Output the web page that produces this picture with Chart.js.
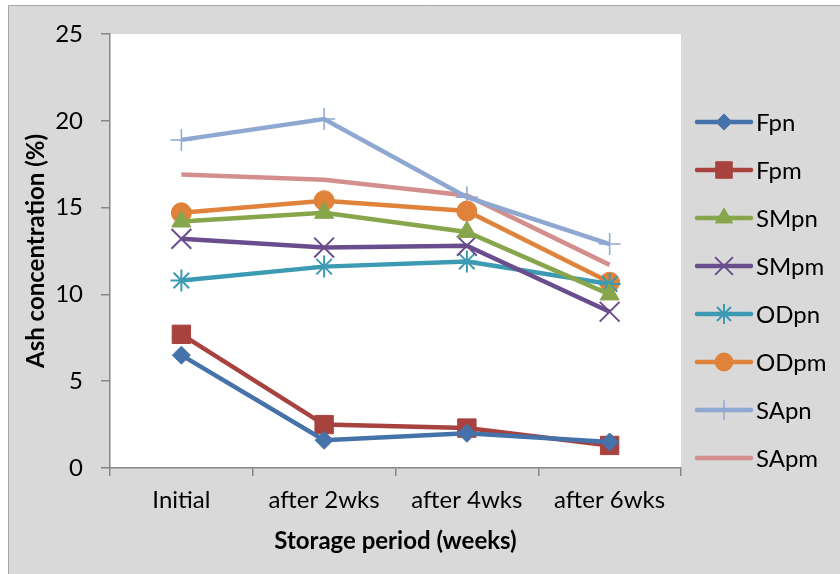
<!DOCTYPE html>
<html>
<head>
<meta charset="utf-8">
<script src="https://cdn.jsdelivr.net/npm/chart.js@4.4.1/dist/chart.umd.min.js"></script>
<style>
  html, body { margin: 0; padding: 0; background: #ffffff; }
  #wrap { width: 840px; height: 574px; }
</style>
</head>
<body>
<div id="wrap"><canvas id="chart" width="840" height="574"></canvas></div>
<script>
// Storage periods along the x axis
const periods = ['Initial', 'after 2wks', 'after 4wks', 'after 6wks'];

// Ash concentration (%) per sample
const Fpn  = [6.5, 1.6, 2.0, 1.5];
const Fpm  = [7.7, 2.5, 2.3, 1.3];
const SMpn = [14.2, 14.7, 13.6, 10.0];
const SMpm = [13.2, 12.7, 12.8, 9.0];
const ODpn = [10.8, 11.6, 11.9, 10.6];
const ODpm = [14.7, 15.4, 14.8, 10.7];
const SApn = [18.9, 20.1, 15.6, 12.9];
const SApm = [16.9, 16.6, 15.7, 11.7];

// y axis ticks
const yTicks = [0, 5, 10, 15, 20, 25];

const FONT = 'Lato, "Liberation Sans", sans-serif';
const AXIS = '#868686';

function series(label, data, color, style, radius, extra) {
  return Object.assign({
    label: label,
    data: data,
    borderColor: color,
    backgroundColor: color,
    borderWidth: 4.5,
    pointStyle: style,
    pointRadius: radius,
    pointHoverRadius: radius,
    pointBorderColor: color,
    pointBackgroundColor: color,
    pointBorderWidth: 1,
    tension: 0,
    clip: false
  }, extra || {});
}

const datasets = [
  series('Fpn',  Fpn,  '#4472a9', 'rectRot', 9),
  series('Fpm',  Fpm,  '#a8423f', 'rect', 13),
  series('SMpn', SMpn, '#87a54a', 'triangle', 11),
  series('SMpm', SMpm, '#6a4d8c', 'crossRot', 14, { pointBorderWidth: 2 }),
  series('ODpn', ODpn, '#3c9ab3', 'star', 11, { pointBorderWidth: 2 }),
  series('ODpm', ODpm, '#e0823a', 'circle', 10),
  series('SApn', SApn, '#8ea8d1', 'cross', 11, { pointBorderWidth: 1.5 }),
  series('SApm', SApm, '#d38f8e', 'circle', 0)
];

// Panel background, plot area fill and the side legend
const framePlugin = {
  id: 'frame',
  beforeDraw(chart) {
    const ctx = chart.ctx;
    const a = chart.chartArea;
    ctx.save();
    ctx.fillStyle = '#ffffff';
    ctx.fillRect(0, 0, chart.width, chart.height);
    ctx.fillStyle = '#d9d9d9';
    ctx.fillRect(8, 5, chart.width - 8, chart.height - 5);
    ctx.strokeStyle = '#a6a6a6';
    ctx.lineWidth = 1;
    ctx.beginPath();
    ctx.moveTo(8.5, chart.height);
    ctx.lineTo(8.5, 5.5);
    ctx.lineTo(chart.width, 5.5);
    ctx.stroke();
    ctx.fillStyle = '#ffffff';
    ctx.fillRect(a.left, a.top, a.right - a.left, a.bottom - a.top);
    ctx.restore();
  },
  afterDraw(chart) {
    const ctx = chart.ctx;
    const x0 = 697, x1 = 751, tx = 756, y0 = 122, step = 48;
    ctx.save();
    chart.data.datasets.forEach((ds, i) => {
      const y = y0 + i * step;
      ctx.strokeStyle = ds.borderColor;
      ctx.lineWidth = 4.5;
      ctx.lineCap = 'round';
      ctx.beginPath();
      ctx.moveTo(x0, y);
      ctx.lineTo(x1, y);
      ctx.stroke();
      if (ds.pointRadius > 0) {
        ctx.lineCap = 'butt';
        ctx.fillStyle = ds.pointBackgroundColor;
        ctx.strokeStyle = ds.pointBorderColor;
        ctx.lineWidth = ds.pointBorderWidth;
        Chart.helpers.drawPoint(ctx, {
          pointStyle: ds.pointStyle,
          radius: ds.pointRadius * 0.9,
          rotation: 0,
          borderWidth: ds.pointBorderWidth
        }, (x0 + x1) / 2, y);
      }
      ctx.fillStyle = '#000000';
      ctx.font = '24px ' + FONT;
      ctx.textBaseline = 'middle';
      ctx.textAlign = 'left';
      ctx.fillText(ds.label, tx, y + 1);
    });
    ctx.restore();
  }
};

new Chart(document.getElementById('chart'), {
  type: 'line',
  data: { labels: periods, datasets: datasets },
  plugins: [framePlugin],
  options: {
    responsive: false,
    animation: false,
    events: [],
    layout: { padding: { top: 34, right: 159, bottom: 0, left: 0 } },
    plugins: {
      legend: { display: false },
      tooltip: { enabled: false }
    },
    scales: {
      x: {
        type: 'category',
        offset: true,
        afterFit(scale) { scale.height = 106; },
        grid: {
          offset: true,
          drawOnChartArea: false,
          drawTicks: true,
          tickLength: 8,
          color: AXIS,
          lineWidth: 1.5
        },
        border: { display: true, color: AXIS, width: 1.5 },
        ticks: {
          color: '#000000',
          font: { family: FONT, size: 24 },
          padding: 10,
          maxRotation: 0,
          autoSkip: false
        },
        title: {
          display: true,
          text: 'Storage period (weeks)',
          color: '#000000',
          font: { family: FONT, size: 24, weight: 'bold' },
          padding: { top: 0, bottom: 18 }
        }
      },
      y: {
        min: yTicks[0],
        max: yTicks[yTicks.length - 1],
        afterFit(scale) { scale.width = 110; },
        afterBuildTicks(scale) { scale.ticks = yTicks.map(v => ({ value: v })); },
        grid: {
          drawOnChartArea: false,
          drawTicks: true,
          tickLength: 9,
          color: AXIS,
          lineWidth: 1.5
        },
        border: { display: true, color: AXIS, width: 1.5 },
        ticks: {
          color: '#000000',
          font: { family: FONT, size: 24 },
          padding: 18
        },
        title: {
          display: true,
          text: 'Ash concentration (%)',
          color: '#000000',
          font: { family: FONT, size: 24, weight: 'bold' },
          padding: { top: 22, bottom: 0 }
        }
      }
    }
  }
});
</script>
</body>
</html>
